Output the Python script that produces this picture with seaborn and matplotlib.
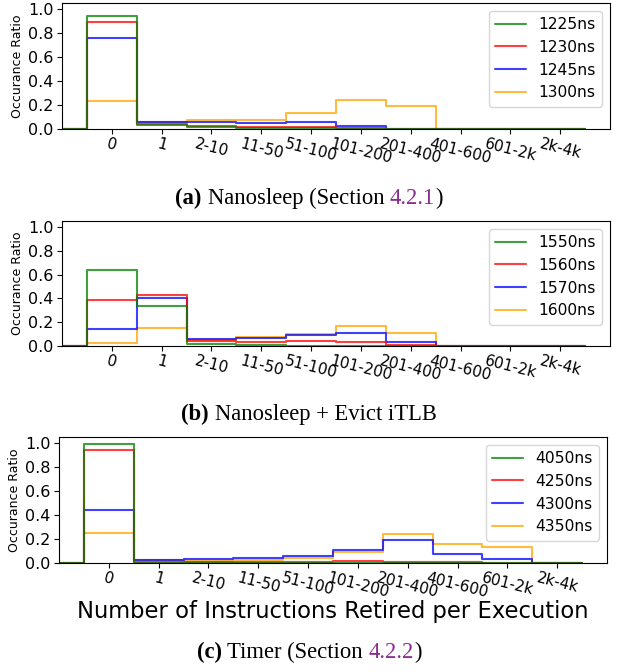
import numpy as np
import pandas as pd
import matplotlib.pyplot as plt
import seaborn as sns

sns.set_theme(style="ticks", rc={
    "axes.linewidth": 0.8,
    "xtick.major.size": 3.5,
    "ytick.major.size": 3.5,
    "xtick.major.width": 0.8,
    "ytick.major.width": 0.8,
    "axes.edgecolor": "black",
    "text.color": "black",
    "xtick.color": "black",
    "ytick.color": "black",
    "axes.labelcolor": "black",
})
plt.rcParams["font.family"] = ["DejaVu Sans"]

# bins of "number of instructions retired per execution"
bin_labels = ["0", "1", "2-10", "11-50", "51-100", "101-200",
              "201-400", "401-600", "601-2k", "2k-4k"]

# (a) Nanosleep
nano_names = ["1225ns", "1230ns", "1245ns", "1300ns"]
nano_1225 = [0.94, 0.033, 0.017, 0.008, 0.005, 0.0, 0.0, 0.0, 0.0, 0.0]
nano_1230 = [0.89, 0.042, 0.028, 0.020, 0.014, 0.005, 0.003, 0.0, 0.0, 0.0]
nano_1245 = [0.755, 0.060, 0.056, 0.053, 0.056, 0.028, 0.003, 0.0, 0.0, 0.0]
nano_1300 = [0.233, 0.055, 0.072, 0.078, 0.136, 0.239, 0.190, 0.0, 0.0, 0.0]

# (b) Nanosleep + Evict iTLB
itlb_names = ["1550ns", "1560ns", "1570ns", "1600ns"]
itlb_1550 = [0.637, 0.338, 0.017, 0.008, 0.003, 0.0, 0.0, 0.0, 0.0, 0.0]
itlb_1560 = [0.385, 0.430, 0.045, 0.033, 0.042, 0.036, 0.008, 0.0, 0.0, 0.0]
itlb_1570 = [0.140, 0.400, 0.061, 0.067, 0.089, 0.112, 0.031, 0.0, 0.0, 0.0]
itlb_1600 = [0.025, 0.150, 0.050, 0.072, 0.100, 0.170, 0.109, 0.0, 0.0, 0.0]

# (c) Timer
timer_names = ["4050ns", "4250ns", "4300ns", "4350ns"]
timer_4050 = [0.995, 0.003, 0.001, 0.0, 0.0, 0.0, 0.0, 0.0, 0.0, 0.0]
timer_4250 = [0.94, 0.010, 0.010, 0.010, 0.008, 0.014, 0.010, 0.005, 0.0, 0.0]
timer_4300 = [0.445, 0.022, 0.033, 0.039, 0.056, 0.108, 0.190, 0.078, 0.036, 0.0]
timer_4350 = [0.247, 0.022, 0.020, 0.025, 0.044, 0.092, 0.244, 0.158, 0.133, 0.0]

line_colors = ["green", "red", "blue", "orange"]
purple = "#8a2d8f"

W, H = 622, 672
fig = plt.figure(figsize=(W / 100, H / 100), dpi=100)


def long_frame(names, series):
    rows = []
    for name, vals in zip(names, series):
        for i, v in enumerate(vals):
            rows.append((i, v, name))
    return pd.DataFrame(rows, columns=["bin", "ratio", "delay"])


def panel(rect, names, series, xlabel=None):
    ax = fig.add_axes(rect)
    df = long_frame(names, series)
    # extra empty bin on the left so the step line drops to zero at -0.5
    sns.histplot(data=df, x="bin", weights="ratio", hue="delay",
                 hue_order=names, palette=dict(zip(names, line_colors)),
                 binwidth=1.0, binrange=(-1.5, 9.5), element="step", fill=False,
                 linewidth=1.5, alpha=0.75, ax=ax)
    ax.set_xlim(-1, 10)
    ax.set_ylim(0, 1.05)
    ax.set_yticks([0, 0.2, 0.4, 0.6, 0.8, 1.0])
    ax.set_xticks(range(len(bin_labels)))
    ax.set_xticklabels(bin_labels, rotation=-14)
    ax.tick_params(axis="x", labelsize=11, pad=1.5)
    ax.tick_params(axis="y", labelsize=11.5, pad=2.5)
    ax.set_ylabel("Occurance Ratio", fontsize=9, labelpad=3)
    ax.set_xlabel(xlabel if xlabel else "", fontsize=16.3, labelpad=0)
    sns.move_legend(ax, "upper right", title=None, fontsize=11.2, frameon=True)
    return ax


panel([62 / W, 1 - 129 / H, 548 / W, 126 / H],
      nano_names, [nano_1225, nano_1230, nano_1245, nano_1300])
panel([62 / W, 1 - 346 / H, 548 / W, 125 / H],
      itlb_names, [itlb_1550, itlb_1560, itlb_1570, itlb_1600])
panel([59 / W, 1 - 563 / H, 548 / W, 126 / H],
      timer_names, [timer_4050, timer_4250, timer_4300, timer_4350],
      xlabel="Number of Instructions Retired per Execution")


def caption(base_px, parts, center_px=309, size=16.3):
    arts = []
    for text, weight, color, gap in parts:
        t = fig.text(0, 1 - base_px / H, text, fontsize=size, fontweight=weight,
                     color=color, family=["Liberation Serif", "DejaVu Serif"],
                     ha="left", va="baseline")
        arts.append((t, gap))
    fig.canvas.draw()
    r = fig.canvas.get_renderer()
    space = 0.25 * size * 100 / 72
    widths = [t.get_window_extent(renderer=r).width for t, _ in arts]
    total = sum(widths) + sum(space for _, g in arts if g)
    x = center_px - total / 2
    for (t, gap), w in zip(arts, widths):
        t.set_x(x / W)
        x += w + (space if gap else 0)


caption(204, [("(a)", "bold", "black", True),
              ("Nanosleep (Section", "normal", "black", True),
              ("4.2.1", "normal", purple, False),
              (")", "normal", "black", False)])
caption(420, [("(b)", "bold", "black", True),
              ("Nanosleep + Evict iTLB", "normal", "black", False)])
caption(658, [("(c)", "bold", "black", True),
              ("Timer (Section", "normal", "black", True),
              ("4.2.2", "normal", purple, False),
              (")", "normal", "black", False)])

fig.savefig("out.png", dpi=100)
